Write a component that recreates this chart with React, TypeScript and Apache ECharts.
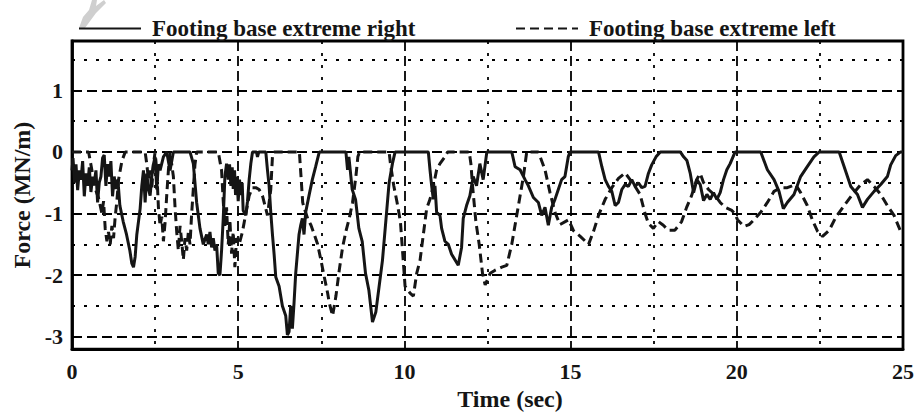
import React, { useEffect, useRef } from "react";
import * as echarts from "echarts";

// ---- Data (time in s, force in MN/m) ----
const legendNames = ["Footing base extreme right", "Footing base extreme left"];
const xAxisName = "Time (sec)";
const yAxisName = "Force (MN/m)";
const xRange = [0, 25];
const yRange = [-3.2, 1.8];

const footingRight: [number, number][] = [
  [0, -0.3], [0.03, -0.1], [0.08, -0.5], [0.12, -0.2], [0.17, -0.62], [0.22, -0.3], [0.27, -0.45],
  [0.32, -0.15], [0.37, -0.72], [0.42, -0.35], [0.47, -0.55], [0.52, -0.25], [0.57, -0.65], [0.62, -0.4],
  [0.67, -0.5], [0.72, -0.3], [0.77, -0.82], [0.82, -0.5], [0.87, -0.4], [0.92, -0.1], [0.97, -0.05],
  [1.02, -0.55], [1.07, -0.2], [1.12, -0.4], [1.17, -0.15], [1.22, -0.72], [1.27, -0.4], [1.32, -0.6],
  [1.38, -0.45], [1.44, -0.87], [1.54, -1.13], [1.64, -1.34], [1.74, -1.6], [1.8, -1.81], [1.85, -1.87],
  [1.9, -1.7], [1.95, -1.34], [2.05, -0.92], [2.1, -0.55], [2.15, -0.3], [2.2, -0.82], [2.25, -0.35],
  [2.3, -0.6], [2.35, -0.71], [2.4, -0.4], [2.45, -0.2], [2.5, -0.08], [2.55, -0.61], [2.6, -0.2],
  [2.65, -0.3], [2.75, -0.08], [2.85, 0], [2.95, -0.3], [3.05, 0], [3.55, 0], [3.65, -0.19], [3.75, -0.82],
  [3.85, -1.24], [3.95, -1.5], [4.05, -1.34], [4.1, -1.5], [4.15, -1.3], [4.2, -1.55], [4.25, -1.4],
  [4.3, -1.6], [4.35, -1.5], [4.4, -1.97], [4.45, -2.0], [4.5, -1.6], [4.55, -1.08], [4.6, -0.4],
  [4.65, -0.19], [4.7, -0.45], [4.74, -0.2], [4.78, -0.55], [4.82, -0.25], [4.85, -0.6], [4.89, -0.3],
  [4.92, -0.7], [4.96, -0.4], [5.0, -0.8], [5.04, -0.45], [5.08, -0.7], [5.12, -0.5], [5.15, -0.95],
  [5.23, -1.03], [5.28, -0.8], [5.33, -0.45], [5.38, -0.19], [5.43, 0], [5.55, 0], [5.58, -0.08],
  [5.62, 0], [5.83, 0], [5.88, -0.29], [5.93, -0.55], [5.98, -0.98], [6.03, -1.34], [6.08, -1.66],
  [6.13, -2.03], [6.23, -2.18], [6.33, -2.5], [6.43, -2.66], [6.48, -2.97], [6.53, -2.92], [6.58, -2.5],
  [6.63, -2.87], [6.68, -2.45], [6.73, -1.97], [6.83, -1.34], [6.88, -1.19], [6.93, -1.08], [6.98, -1.34],
  [7.03, -0.98], [7.13, -0.71], [7.23, -0.45], [7.33, -0.24], [7.44, 0], [8.24, 0], [8.29, -0.29],
  [8.33, -0.08], [8.43, -0.61], [8.53, -0.77], [8.63, -1.24], [8.73, -1.45], [8.83, -1.97], [8.93, -2.24],
  [9.04, -2.76], [9.14, -2.6], [9.24, -2.18], [9.34, -1.76], [9.44, -1.13], [9.54, -0.5], [9.64, -0.19],
  [9.72, 0], [10.72, 0], [10.77, -0.29], [10.82, -0.55], [10.87, -0.77], [10.92, -0.55], [10.97, -0.98],
  [11.07, -1.03], [11.12, -1.24], [11.22, -1.45], [11.32, -1.5], [11.42, -1.66], [11.62, -1.84],
  [11.72, -1.55], [11.77, -1.08], [11.87, -0.87], [11.97, -0.71], [12.07, -0.4], [12.17, -0.55],
  [12.27, -0.19], [12.37, -0.45], [12.48, 0], [13.23, 0], [13.33, -0.24], [13.48, -0.29], [13.63, -0.45],
  [13.73, -0.55], [13.88, -0.74], [14.03, -0.82], [14.13, -1.03], [14.23, -0.9], [14.33, -1.19],
  [14.43, -0.9], [14.53, -0.77], [14.63, -0.61], [14.73, -0.45], [14.83, -0.4], [14.93, -0.08], [14.98, 0],
  [15.84, 0], [15.94, -0.24], [16.04, -0.45], [16.14, -0.56], [16.24, -0.64], [16.34, -0.87],
  [16.44, -0.82], [16.54, -0.61], [16.64, -0.53], [16.74, -0.56], [16.84, -0.45], [16.94, -0.56],
  [17.04, -0.5], [17.14, -0.58], [17.24, -0.56], [17.34, -0.35], [17.44, -0.21], [17.57, -0.08], [17.7, 0],
  [18.3, 0], [18.4, -0.08], [18.5, -0.14], [18.6, -0.35], [18.7, -0.66], [18.8, -0.45], [18.9, -0.53],
  [19.0, -0.79], [19.1, -0.69], [19.2, -0.77], [19.3, -0.66], [19.4, -0.77], [19.5, -0.66], [19.6, -0.45],
  [19.7, -0.29], [19.8, -0.19], [19.95, 0], [20.72, 0], [20.92, -0.29], [21.12, -0.45], [21.27, -0.64],
  [21.4, -0.92], [21.52, -0.82], [21.72, -0.69], [21.92, -0.4], [22.12, -0.24], [22.32, -0.08], [22.48, 0],
  [23.08, 0], [23.23, -0.24], [23.43, -0.56], [23.63, -0.69], [23.78, -0.9], [23.93, -0.77], [24.13, -0.64],
  [24.33, -0.53], [24.53, -0.4], [24.63, -0.21], [24.78, -0.06], [24.93, 0], [25, 0],
];

const footingLeft: [number, number][] = [
  [0, 0], [0.5, 0], [0.6, -0.3], [0.7, -0.6], [0.8, -0.75], [0.9, -1.0], [0.95, -0.8], [1.0, -1.25],
  [1.05, -1.45], [1.1, -1.3], [1.15, -1.5], [1.2, -1.2], [1.25, -1.4], [1.3, -1.05], [1.35, -0.8],
  [1.4, -0.45], [1.5, -0.15], [1.6, 0], [2.2, 0], [2.25, -0.2], [2.3, -0.45], [2.35, -0.3], [2.4, -0.6],
  [2.45, -0.2], [2.5, 0], [2.55, -0.3], [2.6, -0.9], [2.65, -1.2], [2.7, -1.05], [2.75, -1.45],
  [2.8, -1.15], [2.85, -0.7], [2.9, -0.3], [2.95, 0], [3.05, -0.4], [3.1, -0.9], [3.15, -1.3], [3.2, -1.6],
  [3.25, -1.2], [3.3, -1.45], [3.35, -1.75], [3.4, -1.4], [3.45, -1.6], [3.5, -1.3], [3.55, -1.5],
  [3.6, -1.0], [3.65, -0.6], [3.7, -0.2], [3.75, 0], [4.4, 0], [4.5, -0.3], [4.55, -0.8], [4.6, -1.2],
  [4.65, -0.9], [4.7, -1.5], [4.75, -1.1], [4.8, -1.65], [4.85, -1.3], [4.9, -1.87], [4.95, -1.4],
  [5.03, -1.5], [5.13, -1.29], [5.23, -1.0], [5.33, -0.71], [5.43, -0.58], [5.53, -0.58], [5.63, -0.61],
  [5.73, -0.71], [5.83, -0.92], [5.88, -1.03], [5.93, -0.82], [5.98, -0.61], [6.03, -0.08], [6.08, 0],
  [6.84, 0], [6.89, -0.4], [6.94, -0.82], [6.99, -0.92], [7.09, -1.08], [7.19, -1.19], [7.29, -1.34],
  [7.39, -1.5], [7.49, -1.76], [7.59, -2.03], [7.69, -2.29], [7.74, -2.45], [7.84, -2.66], [7.94, -2.34],
  [8.04, -1.92], [8.14, -1.55], [8.24, -1.29], [8.34, -1.08], [8.44, -0.82], [8.54, -0.4], [8.6, -0.08],
  [8.65, 0], [9.54, 0], [9.58, -0.19], [9.68, -0.55], [9.78, -0.82], [9.88, -1.13], [9.93, -1.5],
  [10.02, -2.18], [10.17, -2.29], [10.27, -2.34], [10.37, -1.97], [10.47, -1.76], [10.57, -1.34],
  [10.67, -0.92], [10.77, -0.77], [10.87, -0.56], [10.97, -0.29], [11.07, -0.19], [11.22, -0.08],
  [11.3, 0], [11.95, 0], [12.0, -0.19], [12.05, -0.55], [12.15, -1.13], [12.25, -1.5], [12.35, -1.97],
  [12.43, -2.16], [12.58, -1.97], [12.73, -1.92], [12.93, -1.87], [13.08, -1.84], [13.23, -1.5],
  [13.43, -0.87], [13.58, -0.4], [13.68, 0], [14.03, 0], [14.23, -0.29], [14.38, -0.66], [14.53, -0.98],
  [14.68, -1.18], [14.94, -1.1], [15.09, -1.28], [15.29, -1.37], [15.54, -1.5], [15.69, -1.29],
  [15.84, -1.03], [16.04, -0.77], [16.24, -0.58], [16.44, -0.43], [16.64, -0.34], [16.79, -0.45],
  [16.94, -0.56], [17.09, -0.69], [17.24, -1.0], [17.34, -1.16], [17.49, -1.24], [17.64, -1.13],
  [17.79, -1.19], [17.94, -1.27], [18.14, -1.27], [18.34, -1.13], [18.49, -0.9], [18.64, -0.71],
  [18.79, -0.45], [18.9, -0.35], [19.0, -0.5], [19.15, -0.61], [19.35, -0.71], [19.5, -0.82],
  [19.65, -0.9], [19.85, -0.95], [19.94, -1.0], [20.02, -1.1], [20.22, -1.21], [20.37, -1.18],
  [20.52, -1.1], [20.72, -0.98], [20.92, -0.82], [21.12, -0.64], [21.32, -0.58], [21.52, -0.58],
  [21.77, -0.53], [21.92, -0.66], [22.12, -0.87], [22.27, -1.1], [22.43, -1.29], [22.58, -1.37],
  [22.78, -1.27], [22.98, -1.06], [23.23, -0.87], [23.48, -0.69], [23.73, -0.53], [23.93, -0.45],
  [24.13, -0.56], [24.33, -0.69], [24.53, -0.87], [24.73, -1.03], [24.93, -1.29], [25, -1.32],
];

const FONT = '"Liberation Serif", "Times New Roman", Times, serif';
const INK = "#151515";

export default function App() {
  const ref = useRef<HTMLDivElement>(null);

  useEffect(() => {
    if (!ref.current) return;
    const chart = echarts.init(ref.current, null, { renderer: "svg" });

    const tickLabel = {
      color: INK,
      fontFamily: FONT,
      fontWeight: "bold" as const,
      fontSize: 22,
    };
    const dashedGrid = { color: "#000", width: 1.8, type: [10, 5] };
    const dottedGrid = { color: "#000", width: 1.8, type: [3, 9] };
    const legendBase = {
      top: 12,
      itemWidth: 62,
      itemHeight: 14,
      itemGap: 0,
      itemStyle: { opacity: 0 },
      textStyle: {
        color: INK,
        fontFamily: FONT,
        fontWeight: "bold" as const,
        fontSize: 23,
        padding: [0, 0, 0, 6],
      },
    };

    chart.setOption({
      animation: false,
      backgroundColor: "#fff",
      grid: {
        left: 72,
        top: 41,
        width: 831,
        height: 316,
        show: true,
        borderColor: "#000",
        borderWidth: 2.8,
        backgroundColor: "transparent",
      },
      legend: [
        { ...legendBase, left: 73, data: [legendNames[0]] },
        { ...legendBase, left: 510, data: [legendNames[1]] },
      ],
      graphic: [
        {
          type: "polygon",
          z: -10,
          shape: {
            points: [
              [79, 28], [83, 17], [89, 10], [92, 0], [97, 0], [96, 6], [104, 0], [106, 3], [96, 13], [85, 28],
            ],
          },
          style: { fill: "#cfcfcf" },
        },
      ],
      xAxis: {
        type: "value",
        min: xRange[0],
        max: xRange[1],
        interval: 5,
        name: xAxisName,
        nameLocation: "middle",
        nameGap: 34,
        nameTextStyle: {
          color: INK,
          fontFamily: FONT,
          fontWeight: "bold",
          fontSize: 24,
          padding: [0, 0, 0, 45],
        },
        axisLine: { show: true, onZero: false, lineStyle: { color: "#000", width: 2.8 } },
        axisTick: { show: false },
        axisLabel: { ...tickLabel, margin: 11 },
        splitLine: { show: true, lineStyle: dashedGrid },
        minorTick: { show: false, splitNumber: 2 },
        minorSplitLine: { show: true, lineStyle: dottedGrid },
      },
      yAxis: [
        {
          type: "value",
          min: yRange[0],
          max: yRange[1],
          splitNumber: 5,
          name: yAxisName,
          nameLocation: "middle",
          nameGap: 38,
          nameRotate: 90,
          nameTextStyle: {
            color: INK,
            fontFamily: FONT,
            fontWeight: "bold",
            fontSize: 24,
          },
          axisLine: { show: true, onZero: false, lineStyle: { color: "#000", width: 2.8 } },
          axisTick: { show: false },
          axisLabel: { ...tickLabel, margin: 9, showMinLabel: false, showMaxLabel: false },
          splitLine: { show: true, lineStyle: dashedGrid },
        },
        {
          // helper axis: same pixel span, shifted by 0.5 so its split lines fall on the half-units
          type: "value",
          min: yRange[0] + 0.5,
          max: yRange[1] + 0.5,
          splitNumber: 5,
          position: "left",
          axisLine: { show: false },
          axisTick: { show: false },
          axisLabel: { show: false },
          splitLine: { show: true, lineStyle: dottedGrid },
        },
      ],
      series: [
        {
          type: "line",
          name: legendNames[0],
          data: footingRight,
          yAxisIndex: 0,
          symbol: "none",
          z: 4,
          itemStyle: { color: INK },
          lineStyle: { color: INK, width: 3, type: "solid" },
        },
        {
          type: "line",
          name: legendNames[1],
          data: footingLeft,
          yAxisIndex: 0,
          symbol: "none",
          z: 3,
          itemStyle: { color: INK },
          lineStyle: { color: INK, width: 3, type: [9, 5] },
        },
      ],
    });

    return () => chart.dispose();
  }, []);

  return (
    <div
      ref={ref}
      style={{ position: "absolute", left: 0, top: 0, width: 917, height: 416 }}
    />
  );
}
